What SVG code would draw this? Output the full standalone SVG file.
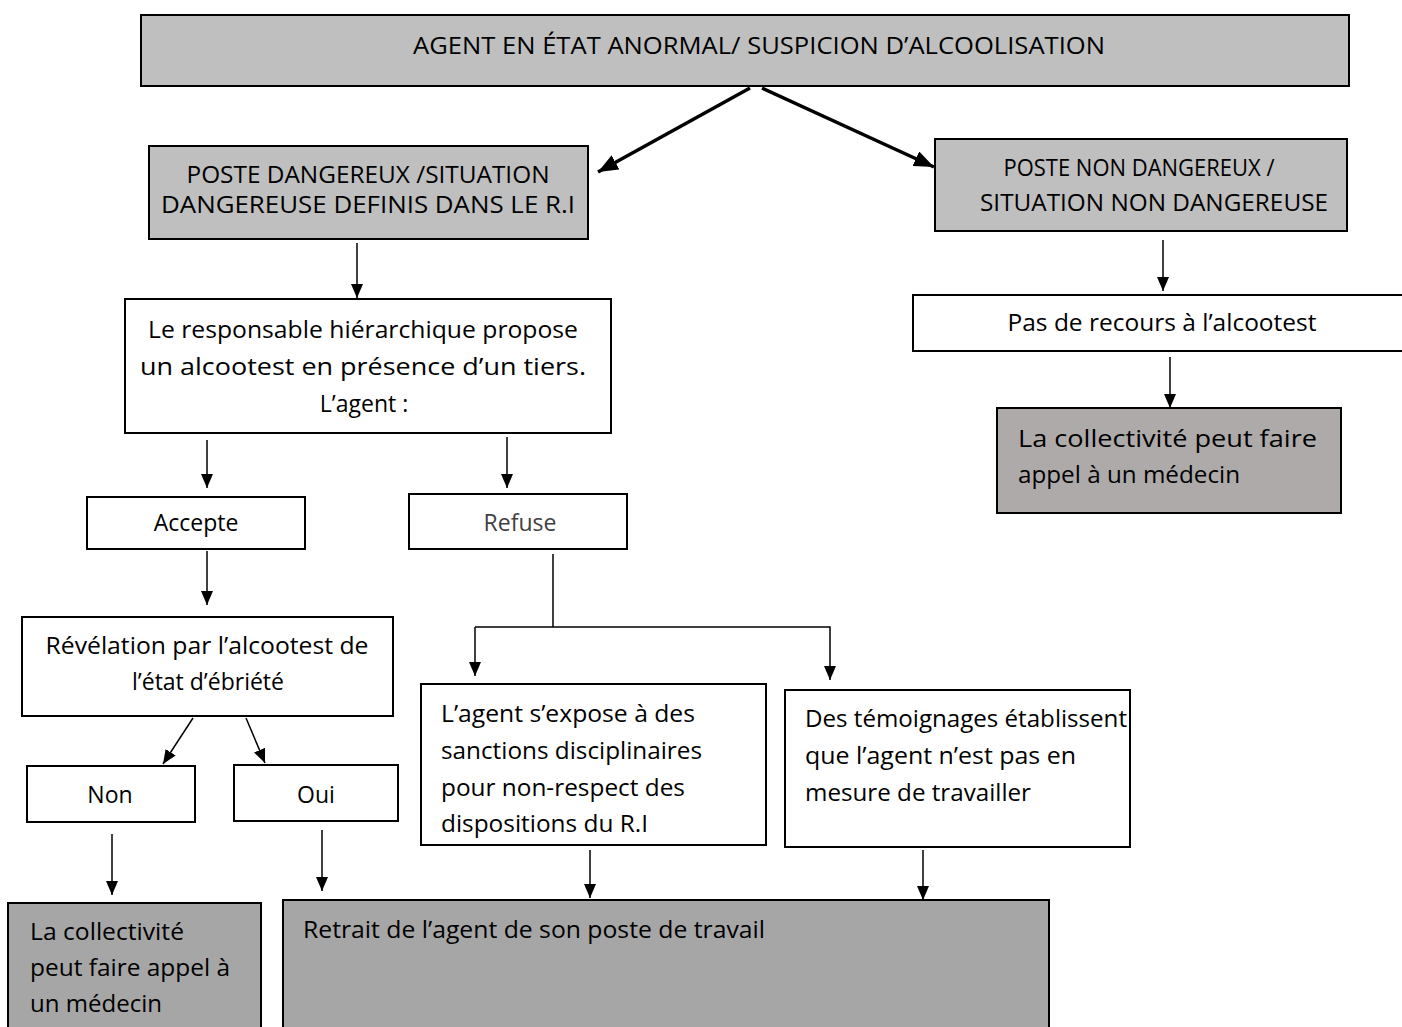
<svg xmlns="http://www.w3.org/2000/svg" width="1402" height="1027" viewBox="0 0 1402 1027">
<style>
  text { font-family: "Open Sans", "Liberation Sans", sans-serif; font-size: 23px; fill: #000; }
  .box { stroke: #000; stroke-width: 2; }
  .w { fill: #fff; }
  .g1 { fill: #bfbfbf; }
  .g2 { fill: #a6a6a6; }
  .g3 { fill: #aeaaaa; }
  .c { text-anchor: middle; }
  .ln { stroke: #000; stroke-width: 1.5; fill: none; }
  .thick { stroke: #000; stroke-width: 3.5; fill: none; }
</style>
<defs>
  <marker id="ah" markerUnits="userSpaceOnUse" viewBox="0 0 14 12" refX="14" refY="6" markerWidth="14" markerHeight="12" orient="auto">
    <path d="M0,0 L14,6 L0,12 Z" fill="#000"/>
  </marker>
  <marker id="ahb" markerUnits="userSpaceOnUse" viewBox="0 0 20 16" refX="20" refY="8" markerWidth="20" markerHeight="16" orient="auto">
    <path d="M0,0 L20,8 L0,16 Z" fill="#000"/>
  </marker>
</defs>
<rect width="1402" height="1027" fill="#fff"/>

<g id="connectors">
  <line class="thick" x1="750" y1="88" x2="598" y2="172" marker-end="url(#ahb)"/>
  <line class="thick" x1="762" y1="88" x2="934" y2="167" marker-end="url(#ahb)"/>
  <line class="ln" x1="357" y1="243" x2="357" y2="298" marker-end="url(#ah)"/>
  <line class="ln" x1="1163" y1="240" x2="1163" y2="291" marker-end="url(#ah)"/>
  <line class="ln" x1="1170" y1="357" x2="1170" y2="408" marker-end="url(#ah)"/>
  <line class="ln" x1="207" y1="440" x2="207" y2="488" marker-end="url(#ah)"/>
  <line class="ln" x1="507" y1="437" x2="507" y2="488" marker-end="url(#ah)"/>
  <line class="ln" x1="207" y1="551" x2="207" y2="605" marker-end="url(#ah)"/>
  <line class="ln" x1="193" y1="718" x2="163" y2="764" marker-end="url(#ah)"/>
  <line class="ln" x1="246" y1="718" x2="265" y2="763" marker-end="url(#ah)"/>
  <line class="ln" x1="112" y1="834" x2="112" y2="895" marker-end="url(#ah)"/>
  <line class="ln" x1="322" y1="830" x2="322" y2="891" marker-end="url(#ah)"/>
  <line class="ln" x1="553" y1="554" x2="553" y2="627"/>
  <path class="ln" d="M475,627 L830,627 L830,680" stroke-width="2" marker-end="url(#ah)"/>
  <line class="ln" x1="475" y1="627" x2="475" y2="676" stroke-width="2" marker-end="url(#ah)"/>
  <line class="ln" x1="590" y1="850" x2="590" y2="898" marker-end="url(#ah)"/>
  <line class="ln" x1="923" y1="850" x2="923" y2="900" marker-end="url(#ah)"/>
</g>

<g id="n-top">
  <rect class="box g1" x="141" y="15" width="1208" height="71"/>
  <text class="c" x="759" y="54" textLength="692" lengthAdjust="spacingAndGlyphs">AGENT EN ÉTAT ANORMAL/ SUSPICION D’ALCOOLISATION</text>
</g>

<g id="n-dangereux">
  <rect class="box g1" x="149" y="146" width="439" height="93"/>
  <text class="c" x="368" y="183" textLength="363" lengthAdjust="spacingAndGlyphs">POSTE DANGEREUX /SITUATION</text>
  <text class="c" x="368" y="213" textLength="414" lengthAdjust="spacingAndGlyphs">DANGEREUSE DEFINIS DANS LE R.I</text>
</g>

<g id="n-non-dangereux">
  <rect class="box g1" x="935" y="139" width="412" height="92"/>
  <text class="c" x="1139" y="176" textLength="271" lengthAdjust="spacingAndGlyphs">POSTE NON DANGEREUX /</text>
  <text class="c" x="1154" y="211" textLength="348" lengthAdjust="spacingAndGlyphs">SITUATION NON DANGEREUSE</text>
</g>

<g id="n-responsable">
  <rect class="box w" x="125" y="299" width="486" height="134"/>
  <text class="c" x="363" y="338" textLength="430" lengthAdjust="spacingAndGlyphs">Le responsable hiérarchique propose</text>
  <text class="c" x="363" y="375" textLength="446" lengthAdjust="spacingAndGlyphs">un alcootest en présence d’un tiers.</text>
  <text class="c" x="364" y="412">L’agent :</text>
</g>

<g id="n-pas-recours">
  <rect class="box w" x="913" y="295" width="500" height="56"/>
  <text class="c" x="1162" y="331" textLength="309" lengthAdjust="spacingAndGlyphs">Pas de recours à l’alcootest</text>
</g>

<g id="n-collectivite-droite">
  <rect class="box g3" x="997" y="408" width="344" height="105"/>
  <text x="1018" y="447" textLength="299" lengthAdjust="spacingAndGlyphs">La collectivité peut faire</text>
  <text x="1018" y="483" textLength="222" lengthAdjust="spacingAndGlyphs">appel à un médecin</text>
</g>

<g id="n-accepte">
  <rect class="box w" x="87" y="497" width="218" height="52"/>
  <text class="c" x="196" y="531">Accepte</text>
</g>

<g id="n-refuse">
  <rect class="box w" x="409" y="494" width="218" height="55"/>
  <text class="c" x="520" y="531" style="fill:#404040">Refuse</text>
</g>

<g id="n-revelation">
  <rect class="box w" x="22" y="617" width="371" height="99"/>
  <text class="c" x="207" y="654" textLength="323" lengthAdjust="spacingAndGlyphs">Révélation par l’alcootest de</text>
  <text class="c" x="208" y="690">l’état d’ébriété</text>
</g>

<g id="n-non">
  <rect class="box w" x="27" y="766" width="168" height="56"/>
  <text class="c" x="110" y="803">Non</text>
</g>

<g id="n-oui">
  <rect class="box w" x="234" y="765" width="164" height="56"/>
  <text class="c" x="316" y="803">Oui</text>
</g>

<g id="n-sanctions">
  <rect class="box w" x="421" y="684" width="345" height="161"/>
  <text x="441" y="722" textLength="254" lengthAdjust="spacingAndGlyphs">L’agent s’expose à des</text>
  <text x="441" y="759" textLength="261" lengthAdjust="spacingAndGlyphs">sanctions disciplinaires</text>
  <text x="441" y="796" textLength="244" lengthAdjust="spacingAndGlyphs">pour non-respect des</text>
  <text x="441" y="832" textLength="207" lengthAdjust="spacingAndGlyphs">dispositions du R.I</text>
</g>

<g id="n-temoignages">
  <rect class="box w" x="785" y="690" width="345" height="157"/>
  <text x="805" y="727" textLength="322" lengthAdjust="spacingAndGlyphs">Des témoignages établissent</text>
  <text x="805" y="764" textLength="271" lengthAdjust="spacingAndGlyphs">que l’agent n’est pas en</text>
  <text x="805" y="801" textLength="226" lengthAdjust="spacingAndGlyphs">mesure de travailler</text>
</g>

<g id="n-collectivite-gauche">
  <rect class="box g2" x="8" y="903" width="253" height="140"/>
  <text x="30" y="940" textLength="154" lengthAdjust="spacingAndGlyphs">La collectivité</text>
  <text x="30" y="976" textLength="200" lengthAdjust="spacingAndGlyphs">peut faire appel à</text>
  <text x="30" y="1012" textLength="132" lengthAdjust="spacingAndGlyphs">un médecin</text>
</g>

<g id="n-retrait">
  <rect class="box g2" x="283" y="900" width="766" height="140"/>
  <text x="303" y="938" textLength="462" lengthAdjust="spacingAndGlyphs">Retrait de l’agent de son poste de travail</text>
</g>
</svg>
